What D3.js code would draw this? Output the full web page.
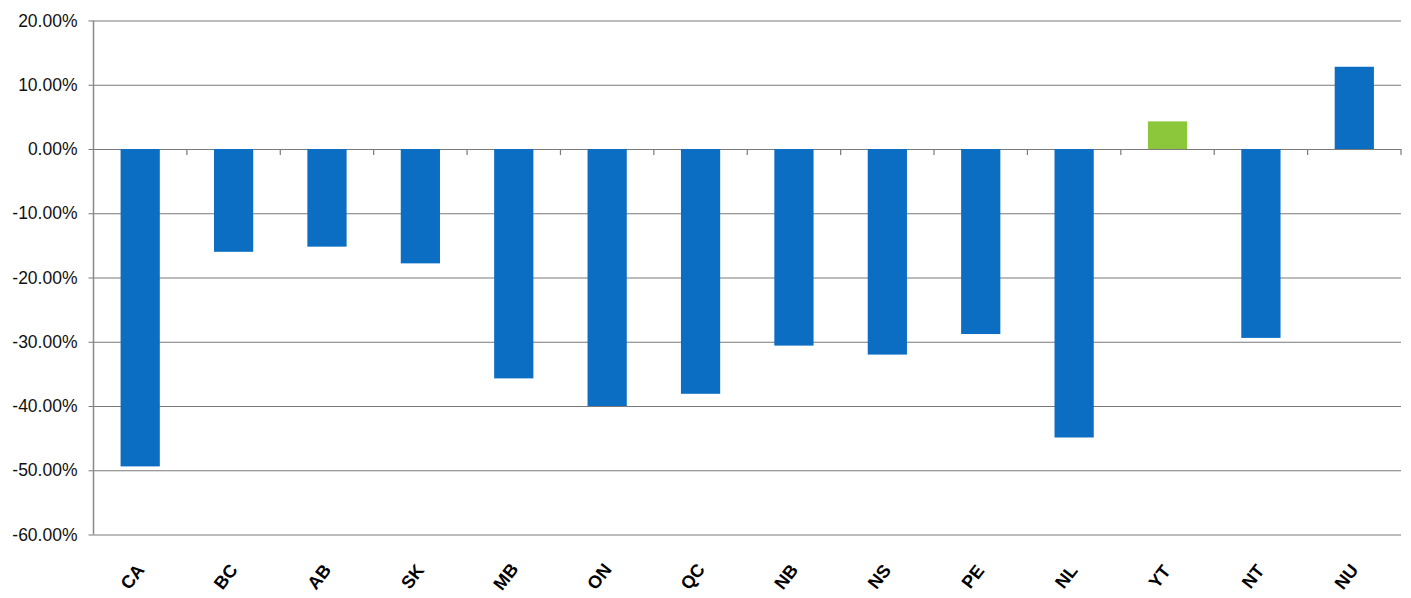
<!DOCTYPE html>
<html>
<head>
<meta charset="utf-8">
<script src="https://cdn.jsdelivr.net/npm/d3@7"></script>
<style>
  html, body { margin: 0; padding: 0; background: #ffffff; }
  svg { display: block; }
</style>
</head>
<body>
<svg id="chart" width="1411" height="598"></svg>
<script>
// Percentage change by province / territory
const categories = ["CA", "BC", "AB", "SK", "MB", "ON", "QC", "NB", "NS", "PE", "NL", "YT", "NT", "NU"];
const values = [-49.4, -16.0, -15.2, -17.8, -35.7, -40.0, -38.1, -30.6, -32.0, -28.8, -44.9, 4.3, -29.4, 12.8];
const highlighted = ["YT"];
const yTicks = [20, 10, 0, -10, -20, -30, -40, -50, -60];

const width = 1411, height = 598;
const margin = { top: 20.5, right: 10, bottom: 63.5, left: 93.5 };

const svg = d3.select("#chart");

const x = d3.scaleBand()
  .domain(categories)
  .range([margin.left, width - margin.right])
  .paddingInner(0.58)
  .paddingOuter(0.29);

const y = d3.scaleLinear()
  .domain([-60, 20])
  .range([height - margin.bottom, margin.top]);

// horizontal gridlines with short left ticks
const yAxis = d3.axisLeft(y)
  .tickValues(yTicks)
  .tickFormat(d => d.toFixed(2) + "%")
  .tickSize(-(width - margin.right - margin.left) - 5)
  .tickPadding(11);

const gy = svg.append("g")
  .attr("transform", `translate(${margin.left - 5},0)`)
  .call(yAxis);
gy.select(".domain").remove();
gy.selectAll(".tick line")
  .attr("stroke", "#7a7a7a")
  .attr("stroke-width", 1.2);
gy.selectAll(".tick text")
  .attr("fill", "#111")
  .style("font-family", "'Liberation Sans', Arial, sans-serif")
  .style("font-size", "17.5px");

// vertical axis line
svg.append("line")
  .attr("x1", margin.left).attr("x2", margin.left)
  .attr("y1", y(20)).attr("y2", y(-60))
  .attr("stroke", "#8a8a8a")
  .attr("stroke-width", 1.5);

// bars
svg.append("g")
  .selectAll("rect")
  .data(categories.map((c, i) => ({ c, v: values[i] })))
  .join("rect")
  .attr("x", d => x(d.c))
  .attr("width", x.bandwidth())
  .attr("y", d => y(Math.max(0, d.v)))
  .attr("height", d => Math.abs(y(d.v) - y(0)))
  .attr("fill", d => highlighted.includes(d.c) ? "#8cc63a" : "#0b6ec2");

// category axis along zero with boundary ticks
const step = x.step();
const boundaries = d3.range(categories.length + 1).map(i => margin.left + i * step);
svg.append("g")
  .selectAll("line")
  .data(boundaries.slice(1))
  .join("line")
  .attr("x1", d => d).attr("x2", d => d)
  .attr("y1", y(0)).attr("y2", y(0) + 6)
  .attr("stroke", "#7a7a7a")
  .attr("stroke-width", 1.2);

// rotated category labels below the plot
svg.append("g")
  .selectAll("text")
  .data(categories)
  .join("text")
  .attr("transform", d => `translate(${x(d) + x.bandwidth() / 2 - 8},${height - margin.bottom + 42}) rotate(-52)`)
  .attr("text-anchor", "middle")
  .attr("dy", "0.35em")
  .attr("fill", "#000")
  .style("font-family", "'Liberation Sans', Arial, sans-serif")
  .style("font-weight", "bold")
  .style("font-size", "18px")
  .text(d => d);
</script>
</body>
</html>
